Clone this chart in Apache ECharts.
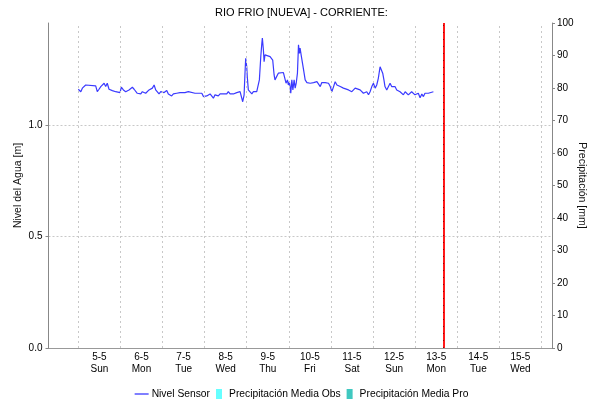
<!DOCTYPE html>
<html>
<head>
<meta charset="utf-8">
<script src="https://cdn.jsdelivr.net/npm/echarts@6/dist/echarts.min.js"></script>
<style>html,body{margin:0;padding:0;background:#fff}#c{width:603px;height:404px}</style>
</head>
<body>
<div id="c"></div>
<script>
// ---- data ----
const chartTitle = 'RIO FRIO [NUEVA] - CORRIENTE:';
const tickDates = ['5-5','6-5','7-5','8-5','9-5','10-5','11-5','12-5','13-5','14-5','15-5'];
const tickDays = ['Sun','Mon','Tue','Wed','Thu','Fri','Sat','Sun','Mon','Tue','Wed'];
const levelTicks = [0, 0.5, 1.0];
// hours since 2024-05-05 00:00
const levelHours = [0,1.4,2.3,3.2,4.2,9.9,10.8,11.8,12.8,13.7,14.7,15.6,16.5,17.5,18.5,19.4,20.4,21.3,22.2,23.8,
24.5,25.7,27.0,27.9,28.9,29.9,30.8,31.8,32.7,33.6,34.6,35.6,36.5,37.5,38.4,39.3,40.3,41.3,42.2,43.2,
44.1,45.0,46.0,47.0,47.9,48.9,50.4,51.3,52.3,53.2,54.2,55.1,56.1,57.0,58.0,58.9,60.8,62.7,63.7,66.5,
70.4,71.3,72.2,73.2,74.1,75.1,76.1,77.0,77.9,78.9,79.8,80.8,82.7,84.6,85.5,86.5,88.4,90.3,91.2,92.2,
93.2,93.7,94.5,95.0,95.4,96.0,96.3,96.9,97.9,98.9,99.8,100.8,101.7,102.6,103.2,104.0,104.6,104.9,105.5,105.9,
106.4,107.4,109.3,110.3,110.8,111.6,112.1,113.1,114.0,115.0,116.9,117.8,118.4,119.2,119.7,120.3,121.1,121.7,122.3,123.0,
123.6,124.2,124.9,125.5,126.0,126.4,127.0,127.4,128.4,129.3,130.3,131.2,132.2,133.1,134.1,135.0,136.0,136.9,137.9,138.8,
139.7,140.7,141.7,142.6,143.6,144.5,145.5,146.4,147.4,148.3,149.3,150.2,151.1,152.1,154.0,155.9,156.8,157.8,158.7,160.6,
162.5,164.4,165.4,166.3,167.3,168.2,169.2,170.1,171.0,172.0,172.9,173.5,174.2,174.8,175.8,176.7,177.7,178.6,179.6,180.5,
181.5,182.4,183.4,184.4,185.3,186.3,187.2,188.1,189.1,190.0,191.0,191.9,192.9,193.8,194.8,195.8,196.7,197.6,198.6,199.5,
200.5,202.4];
const levelValues = [1.160,1.149,1.165,1.157,1.179,1.175,1.149,1.160,1.172,1.179,1.187,1.172,1.187,1.160,1.157,1.154,1.157,1.149,1.145,1.145,
1.169,1.157,1.149,1.154,1.157,1.165,1.169,1.160,1.157,1.142,1.149,1.139,1.149,1.154,1.142,1.145,1.157,1.149,1.165,1.179,
1.157,1.149,1.139,1.149,1.142,1.145,1.154,1.139,1.145,1.130,1.139,1.135,1.142,1.139,1.145,1.149,1.145,1.149,1.145,1.142,
1.142,1.127,1.120,1.130,1.127,1.139,1.135,1.120,1.135,1.139,1.130,1.139,1.139,1.139,1.149,1.139,1.139,1.145,1.139,1.149,
1.142,1.104,1.135,1.232,1.299,1.261,1.217,1.157,1.149,1.139,1.149,1.145,1.149,1.157,1.202,1.306,1.366,1.389,1.336,1.284,
1.314,1.306,1.306,1.299,1.291,1.224,1.202,1.205,1.232,1.235,1.235,1.229,1.187,1.202,1.179,1.194,1.142,1.202,1.157,1.202,
1.165,1.187,1.232,1.359,1.321,1.344,1.314,1.321,1.247,1.202,1.190,1.194,1.187,1.194,1.190,1.184,1.194,1.190,1.172,1.190,
1.187,1.190,1.194,1.187,1.172,1.149,1.172,1.194,1.179,1.187,1.172,1.169,1.165,1.160,1.157,1.149,1.157,1.165,1.167,1.157,
1.142,1.149,1.135,1.149,1.172,1.187,1.165,1.179,1.209,1.261,1.269,1.232,1.202,1.172,1.157,1.165,1.187,1.172,1.165,1.172,
1.157,1.165,1.149,1.142,1.135,1.149,1.142,1.135,1.142,1.149,1.149,1.135,1.127,1.142,1.122,1.139,1.127,1.142,1.135,1.142,
1.138,1.149];
const precipObs = [];
const precipPro = [];
const nowHour = 208.1;        // current-time marker (hours since start)
const axisStartHour = -17;    // 4-5 07:00
const axisEndHour = 270;      // 16-5 06:00
const levelMax = 1.457;

// ---- build ----
const HOUR = 3600e3;
const base = new Date(2024, 4, 5, 0, 0, 0).getTime();
const levelData = levelHours.map((h, i) => [base + h * HOUR, levelValues[i]]);
const labelValues = tickDates.map((d, i) => base + (i * 24 + 12) * HOUR);
const gridLines = [];
for (let i = 0; i <= tickDates.length; i++) gridLines.push({ xAxis: base + i * 24 * HOUR });

const FONT = 'Liberation Sans, Arial, sans-serif';
const chart = echarts.init(document.getElementById('c'), null, { renderer: 'canvas' });
chart.setOption({
  animation: false,
  backgroundColor: '#fff',
  textStyle: { fontFamily: FONT },
  title: {
    text: chartTitle, left: 'center', top: 2,
    textStyle: { fontFamily: FONT, fontSize: 11, fontWeight: 'normal', color: '#000' }
  },
  legend: {
    top: 384, left: 'center', itemGap: 6, itemWidth: 14, itemHeight: 10,
    textStyle: { fontFamily: FONT, fontSize: 10.3, color: '#000', padding: [0, 0, 0, -2] },
    data: [
      { name: 'Nivel Sensor', icon: 'path://M0,0h14v1.3h-14z' },
      { name: 'Precipitación Media Obs', icon: 'path://M0,0h6v10h-6z' },
      { name: 'Precipitación Media Pro', icon: 'path://M0,0h6v10h-6z' }
    ]
  },
  grid: { left: 48.5, right: 51, top: 23, bottom: 56, containLabel: false },
  xAxis: [{
    type: 'value',
    min: base + axisStartHour * HOUR, max: base + axisEndHour * HOUR,
    axisLine: { show: true, lineStyle: { color: '#333', type: [1, 1], width: 1 } },
    axisTick: { show: false },
    splitLine: { show: false },
    axisLabel: {
      customValues: labelValues,
      margin: 3, fontSize: 10, color: '#000', lineHeight: 12, fontFamily: FONT,
      formatter: function (v) {
        const i = labelValues.indexOf(v);
        if (i < 0) return '';
        return tickDates[i] + '\n' + tickDays[i];
      }
    }
  }, {
    type: 'value', position: 'top',
    min: base + axisStartHour * HOUR, max: base + axisEndHour * HOUR,
    axisLine: { show: true, lineStyle: { color: '#999', width: 1 } },
    axisTick: { show: false }, axisLabel: { show: false }, splitLine: { show: false }
  }],
  yAxis: [{
    type: 'value', min: 0, max: levelMax, interval: 0.5,
    name: 'Nivel del Agua [m]', nameLocation: 'middle', nameGap: 25, nameMoveOverlap: false,
    nameTextStyle: { fontFamily: FONT, fontSize: 10.5, color: '#111' },
    axisLine: { show: true, lineStyle: { color: '#888' } },
    axisTick: { show: true, length: 3, customValues: levelTicks, lineStyle: { color: '#888' } },
    axisLabel: {
      customValues: levelTicks, fontSize: 10, color: '#000', margin: 6,
      formatter: v => v.toFixed(1)
    },
    splitLine: { show: true, lineStyle: { color: '#c8c8c8', type: [2, 2] } }
  }, {
    type: 'value', min: 0, max: 100, interval: 10, position: 'right',
    name: 'Precipitación [mm]', nameLocation: 'middle', nameGap: 24, nameRotate: -90, nameMoveOverlap: false,
    nameTextStyle: { fontFamily: FONT, fontSize: 10.5, color: '#111' },
    axisLine: { show: true, lineStyle: { color: '#888' } },
    axisTick: { show: true, length: 3, inside: false, lineStyle: { color: '#888' } },
    axisLabel: { fontSize: 10, color: '#000', margin: 5 },
    splitLine: { show: false }
  }],
  series: [{
    name: 'Nivel Sensor', type: 'line', data: levelData,
    xAxisIndex: 0, yAxisIndex: 0,
    showSymbol: false, symbol: 'none',
    lineStyle: { color: '#3a3aff', width: 1.2 },
    itemStyle: { color: '#3a3aff' },
    z: 3,
    markLine: {
      silent: true, symbol: 'none', label: { show: false }, animation: false,
      data: gridLines.map(g => Object.assign({ lineStyle: { color: '#c8c8c8', type: [2, 3], width: 1 } }, g)).concat([
        { xAxis: base + nowHour * HOUR, lineStyle: { color: '#ff1a1a', type: 'solid', width: 2 } },
        { xAxis: base + nowHour * HOUR, lineStyle: { color: '#a00000', type: [1, 6], width: 1 } }
      ])
    }
  }, {
    name: 'Precipitación Media Obs', type: 'bar', data: precipObs,
    xAxisIndex: 0, yAxisIndex: 1, itemStyle: { color: '#66ffff' }
  }, {
    name: 'Precipitación Media Pro', type: 'bar', data: precipPro,
    xAxisIndex: 0, yAxisIndex: 1, itemStyle: { color: '#40c8c0' }
  }]
});
</script>
</body>
</html>
